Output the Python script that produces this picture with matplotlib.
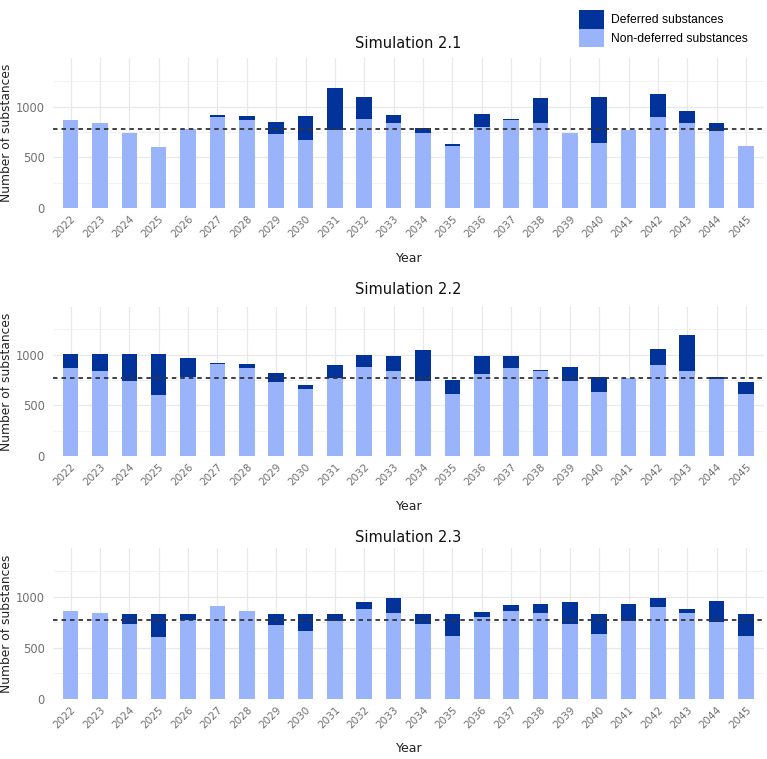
import numpy as np
import matplotlib.pyplot as plt
from matplotlib.patches import Patch

years = list(range(2022, 2046))

# non-deferred / deferred substances per simulation
nondef_21 = [869, 836, 738, 607, 777, 902, 869, 728, 669, 770, 879, 836,
             738, 616, 803, 866, 836, 738, 639, 770, 895, 836, 757, 616]
defer_21 = [0, 0, 0, 0, 0, 16, 39, 118, 239, 417, 216, 79,
            52, 14, 125, 13, 249, 0, 456, 0, 230, 121, 79, 0]

nondef_22 = [865, 836, 737, 605, 776, 905, 868, 727, 664, 770, 875, 836,
             737, 615, 806, 865, 836, 737, 635, 766, 895, 836, 760, 615]
defer_22 = [142, 171, 270, 402, 188, 13, 40, 89, 33, 125, 118, 148,
            309, 132, 178, 119, 13, 138, 148, 0, 161, 358, 23, 119]

nondef_23 = [865, 836, 737, 605, 776, 908, 865, 727, 668, 766, 875, 836,
             737, 618, 806, 865, 836, 737, 638, 766, 898, 839, 757, 618]
defer_23 = [0, 0, 92, 224, 53, 0, 0, 102, 161, 63, 72, 151,
            92, 211, 43, 53, 92, 210, 191, 162, 89, 39, 200, 211]

titles = ['Simulation 2.1', 'Simulation 2.2', 'Simulation 2.3']
reference = 775

dark = '#02339A'
light = '#99B4FB'
tick_grey = '#707070'

fig = plt.figure(figsize=(7.67, 7.59), dpi=100)
H = 759.0
boxes = [(0.0691, 0.7256, 0.9265, 0.1976),
         (0.0691, 0.3992, 0.9265, 0.1967),
         (0.0691, 0.0794, 0.9265, 0.1982)]
title_y = [43, 290, 537]      # pixel centres from top
xlab_y = [258, 507, 749]
sims = [(nondef_21, defer_21), (nondef_22, defer_22), (nondef_23, defer_23)]

x = np.arange(len(years))
for box, title, ty, xy, (nd, dfr) in zip(boxes, titles, title_y, xlab_y, sims):
    ax = fig.add_axes(box)
    ax.bar(x, nd, width=0.53, color=light, zorder=2)
    ax.bar(x, dfr, width=0.53, bottom=nd, color=dark, zorder=2)
    ax.axhline(reference, color='#333333', ls=(0, (2.5, 2.2)), lw=1.3, zorder=3)
    ax.set_xlim(-0.6, len(years) - 0.4)
    ax.set_ylim(0, 1475)
    ax.set_yticks([0, 500, 1000])
    ax.set_yticks([250, 750, 1250], minor=True)
    ax.set_xticks(x)
    ax.set_xticklabels(years, rotation=45, ha='right', rotation_mode='anchor',
                       fontsize=7.5, color=tick_grey)
    ax.tick_params(axis='y', labelsize=8.3, labelcolor=tick_grey, pad=6)
    ax.tick_params(axis='x', pad=4)
    ax.tick_params(which='both', length=0)
    ax.grid(True, which='major', color='#e8e8e8', lw=0.9, zorder=0)
    ax.grid(True, which='minor', axis='y', color='#f1f1f1', lw=0.7, zorder=0)
    for s in ax.spines.values():
        s.set_visible(False)
    ax.set_ylabel('Number of substances', fontsize=8.8, color='#222222', labelpad=2)
    fig.text(0.532, 1 - ty / H, title, fontsize=10.5, color='#111111',
             ha='center', va='center')
    fig.text(0.533, 1 - xy / H, 'Year', fontsize=9, color='#222222',
             ha='center', va='center')

handles = [Patch(facecolor=dark, label='Deferred substances'),
           Patch(facecolor=light, label='Non-deferred substances')]
fig.legend(handles=handles, loc='upper left', bbox_to_anchor=(0.7475, 0.9947),
           frameon=False, borderpad=0, handlelength=2.0, handleheight=2.0,
           handletextpad=0.6, labelspacing=0.0,
           prop={'family': 'Liberation Sans', 'size': 8.7})

fig.savefig('out.png', dpi=100)
